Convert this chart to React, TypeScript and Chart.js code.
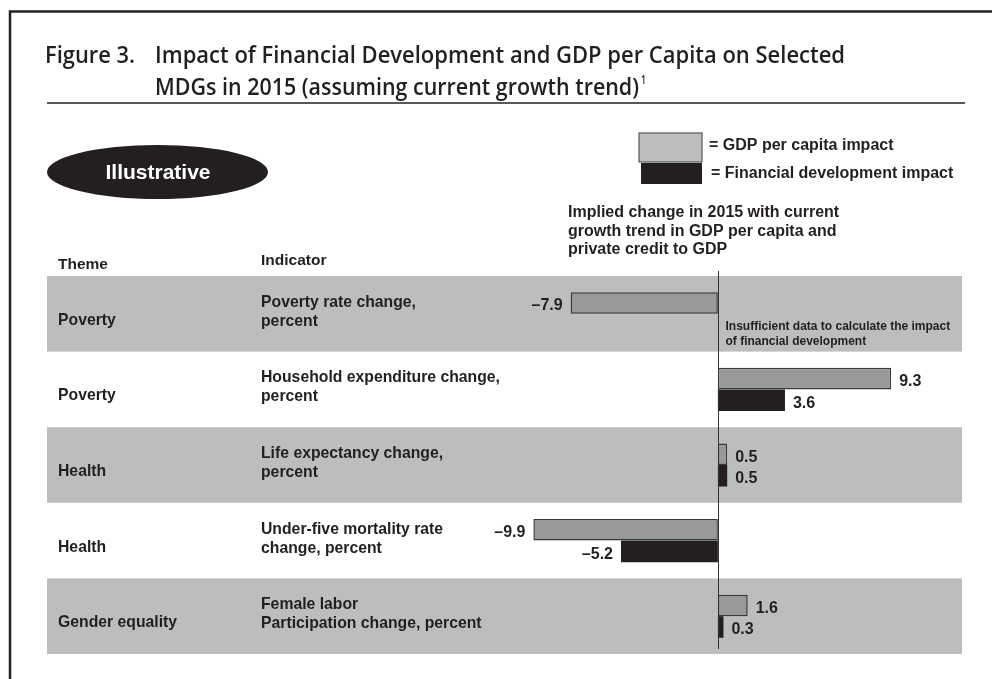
import React, { useEffect, useRef } from "react";
import { Chart, registerables } from "chart.js";

Chart.register(...registerables);

// ---- data ----
const themes = ["Poverty", "Poverty", "Health", "Health", "Gender equality"];
const indicators: string[][] = [
  ["Poverty rate change,", "percent"],
  ["Household expenditure change,", "percent"],
  ["Life expectancy change,", "percent"],
  ["Under-five mortality rate", "change, percent"],
  ["Female labor", "Participation change, percent"],
];
const gdpImpact = [-7.9, 9.3, 0.5, -9.9, 1.6];
const finImpact: (number | null)[] = [null, 3.6, 0.5, -5.2, 0.3];
const seriesNames = ["GDP per capita impact", "Financial development impact"];
const titleLabel = "Figure 3.";
const titleLines = [
  "Impact of Financial Development and GDP per Capita on Selected",
  "MDGs in 2015 (assuming current growth trend)",
];
const axisNote = [
  "Implied change in 2015 with current",
  "growth trend in GDP per capita and",
  "private credit to GDP",
];
const missingNote = ["Insufficient data to calculate the impact", "of financial development"];
const headerLabels = ["Theme", "Indicator"];
const badgeLabel = "Illustrative";

const INK = "#231f20";
const BAND = "#bcbdbf";
const GRAY_BAR = "#98999b";
const SANS = "'Liberation Sans', Arial, Helvetica, sans-serif";

function fmt(v: number) {
  return v < 0 ? "\u2013" + Math.abs(v).toFixed(1) : v.toFixed(1);
}

function fitText(ctx: CanvasRenderingContext2D, text: string, x: number, y: number, width: number) {
  const w = ctx.measureText(text).width;
  ctx.save();
  ctx.translate(x, y);
  ctx.scale(width / w, 1);
  ctx.fillText(text, 0, 0);
  ctx.restore();
}

const decorPlugin = {
  id: "decor",
  beforeDraw(chart: any) {
    const ctx: CanvasRenderingContext2D = chart.ctx;
    ctx.save();
    ctx.fillStyle = "#ffffff";
    ctx.fillRect(0, 0, chart.width, chart.height);

    // frame
    ctx.strokeStyle = INK;
    ctx.lineWidth = 2.5;
    ctx.beginPath();
    ctx.moveTo(10, 690);
    ctx.lineTo(10, 11.5);
    ctx.lineTo(1000, 11.5);
    ctx.stroke();

    // title
    ctx.fillStyle = INK;
    ctx.textBaseline = "alphabetic";
    ctx.textAlign = "left";
    ctx.font = "600 23px 'Open Sans', sans-serif";
    fitText(ctx, titleLabel, 45, 63, 90);
    fitText(ctx, titleLines[0], 155, 63, 690);
    fitText(ctx, titleLines[1], 155, 95, 484);
    ctx.font = "600 12px 'Open Sans', sans-serif";
    fitText(ctx, "1", 641, 84, 5);

    // rule
    ctx.strokeStyle = INK;
    ctx.lineWidth = 1.5;
    ctx.beginPath();
    ctx.moveTo(47, 103);
    ctx.lineTo(965, 103);
    ctx.stroke();

    // badge
    ctx.fillStyle = INK;
    ctx.beginPath();
    ctx.ellipse(157.5, 172, 110.5, 27, 0, 0, Math.PI * 2);
    ctx.fill();
    ctx.fillStyle = "#ffffff";
    ctx.font = `bold 21px ${SANS}`;
    ctx.textAlign = "center";
    ctx.textBaseline = "middle";
    ctx.fillText(badgeLabel, 158, 173);

    // legend
    ctx.fillStyle = BAND;
    ctx.fillRect(639, 133, 63, 29);
    ctx.strokeStyle = "#555";
    ctx.lineWidth = 1.2;
    ctx.strokeRect(639, 133, 63, 29);
    ctx.fillStyle = INK;
    ctx.fillRect(641, 163, 61, 21);
    ctx.textAlign = "left";
    ctx.textBaseline = "alphabetic";
    ctx.font = `bold 16px ${SANS}`;
    ctx.fillText("= " + seriesNames[0], 709, 150);
    ctx.fillText("= " + seriesNames[1], 711, 178);

    // axis note
    ctx.font = `bold 16px ${SANS}`;
    axisNote.forEach((t, i) => ctx.fillText(t, 568, 217 + i * 18.5));

    // headers
    ctx.font = `bold 15.5px ${SANS}`;
    ctx.fillText(headerLabels[0], 58, 269);
    ctx.fillText(headerLabels[1], 261, 265);
    ctx.restore();
  },
  beforeDatasetsDraw(chart: any) {
    const ctx: CanvasRenderingContext2D = chart.ctx;
    const { left, right, height } = chart.chartArea;
    const ys = chart.scales.y;
    const n = themes.length;
    const h = height / n;
    ctx.save();
    themes.forEach((theme, i) => {
      const c = ys.getPixelForValue(i);
      if (i % 2 === 0) {
        ctx.fillStyle = BAND;
        ctx.fillRect(left, c - h / 2, right - left, h);
      }
      ctx.fillStyle = INK;
      ctx.font = `bold 15.75px ${SANS}`;
      ctx.textAlign = "left";
      ctx.textBaseline = "alphabetic";
      ctx.fillText(theme, left + 11, c + 11);
      indicators[i].forEach((t, k) => ctx.fillText(t, left + 214, c - 7 + k * 19));
    });
    ctx.restore();
  },
  afterDatasetsDraw(chart: any) {
    const ctx: CanvasRenderingContext2D = chart.ctx;
    const { top, bottom } = chart.chartArea;
    const x0 = Math.round(chart.scales.x.getPixelForValue(0)) + 0.5;
    ctx.save();
    ctx.strokeStyle = "#333";
    ctx.lineWidth = 1;
    ctx.beginPath();
    ctx.moveTo(x0, top - 5);
    ctx.lineTo(x0, bottom - 5);
    ctx.stroke();

    // value labels
    ctx.fillStyle = INK;
    ctx.font = `bold 16px ${SANS}`;
    ctx.textBaseline = "middle";
    chart.data.datasets.forEach((ds: any, di: number) => {
      const meta = chart.getDatasetMeta(di);
      meta.data.forEach((el: any, i: number) => {
        const v = ds.data[i];
        if (v === null || v === undefined) return;
        if (v >= 0) {
          ctx.textAlign = "left";
          ctx.fillText(fmt(v), el.x + 8, el.y + 3);
        } else {
          ctx.textAlign = "right";
          ctx.fillText(fmt(v), el.x - 8, el.y + 3);
        }
      });
    });

    // missing-data note on the row without a financial value
    const mi = finImpact.findIndex((v) => v === null);
    if (mi >= 0) {
      const c = chart.scales.y.getPixelForValue(mi);
      ctx.textAlign = "left";
      ctx.textBaseline = "alphabetic";
      ctx.font = `bold 12px ${SANS}`;
      missingNote.forEach((t, k) => ctx.fillText(t, x0 + 7, c + 16 + k * 15));
    }
    ctx.restore();
  },
};

export default function App() {
  const ref = useRef<HTMLCanvasElement | null>(null);
  useEffect(() => {
    document.body.style.margin = "0";
    const canvas = ref.current!;
    const chart = new Chart(canvas, {
      type: "bar",
      data: {
        labels: themes,
        datasets: [
          {
            label: seriesNames[0],
            data: gdpImpact,
            backgroundColor: GRAY_BAR,
            borderColor: "#3a3a3a",
            borderWidth: 1.5,
            borderSkipped: false,
            categoryPercentage: 0.57,
            barPercentage: 1,
          },
          {
            label: seriesNames[1],
            data: finImpact,
            backgroundColor: INK,
            borderWidth: 0,
            categoryPercentage: 0.57,
            barPercentage: 1,
          },
        ],
      },
      options: {
        indexAxis: "y",
        responsive: false,
        animation: false,
        devicePixelRatio: 1,
        layout: { padding: { left: 47, right: 30, top: 276, bottom: 25 } },
        scales: {
          x: { display: false, min: -36, max: 13.1 },
          y: { display: false },
        },
        plugins: {
          legend: { display: false },
          tooltip: { enabled: false },
          title: { display: false },
        },
      },
      plugins: [decorPlugin],
    } as any);
    return () => chart.destroy();
  }, []);
  return (
    <canvas
      ref={ref}
      width={992}
      height={679}
      style={{ position: "absolute", left: 0, top: 0, display: "block" }}
    />
  );
}
